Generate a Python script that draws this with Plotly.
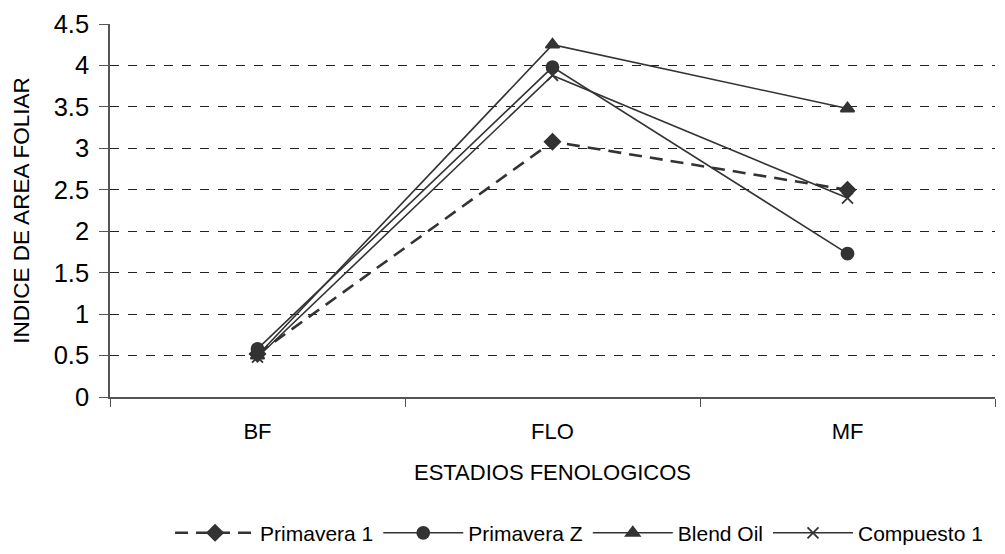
import plotly.graph_objects as go

# Phenological stages and leaf area index per variety
estadios = ["BF", "FLO", "MF"]
primavera_1 = [0.52, 3.08, 2.50]
primavera_z = [0.58, 3.98, 1.73]
blend_oil = [0.50, 4.25, 3.48]
compuesto_1 = [0.48, 3.88, 2.40]

y_ticks = [0, 0.5, 1, 1.5, 2, 2.5, 3, 3.5, 4, 4.5]
y_tick_text = ["0", "0.5", "1", "1.5", "2", "2.5", "3", "3.5", "4", "4.5"]

ink = "#333333"
series = [
    ("Primavera 1", primavera_1, "diamond", "13px,8px", 2.6, 12),
    ("Primavera Z", primavera_z, "circle", "solid", 1.6, 12),
    ("Blend Oil", blend_oil, "triangle-up", "solid", 1.6, 12),
    ("Compuesto 1", compuesto_1, "x-thin", "solid", 1.6, 11),
]

fig = go.Figure()
for name, vals, sym, dash, width, size in series:
    fig.add_trace(go.Scatter(
        x=estadios, y=vals, name=name, mode="lines+markers",
        line=dict(color=ink, width=width, dash=dash),
        marker=dict(symbol=sym, size=size, color=ink,
                    line=dict(color=ink, width=1.8)),
    ))

font = "Liberation Sans, Arial, sans-serif"
fig.update_layout(
    width=1005, height=554,
    margin=dict(l=110, r=10, t=24, b=157, autoexpand=False),
    paper_bgcolor="white", plot_bgcolor="white",
    font=dict(family=font, color="black", size=22),
    showlegend=True,
    legend=dict(orientation="h", x=0.53, xanchor="center", y=-0.365,
                yanchor="middle", font=dict(size=21), itemwidth=80,
                tracegroupgap=0),
    xaxis=dict(
        type="category", range=[-0.5, 2.5], tickson="boundaries",
        ticks="outside", ticklen=8, tickcolor="#555", showline=True,
        linecolor="#555", linewidth=1.5, showgrid=False, automargin=False,
        tickfont=dict(size=22), ticklabelstandoff=14,
        title=dict(text="ESTADIOS FENOLOGICOS", font=dict(size=22), standoff=21),
    ),
    yaxis=dict(
        range=[0, 4.5], tickmode="array", tickvals=y_ticks, ticktext=y_tick_text,
        ticks="outside", ticklen=9, tickcolor="#555", showline=True,
        linecolor="#555", linewidth=1.5, zeroline=False, automargin=False,
        showgrid=True, gridcolor="#222", griddash="dash", gridwidth=1,
        tickfont=dict(size=25.5), ticklabelstandoff=5,
        title=dict(text="INDICE DE AREA FOLIAR", font=dict(size=22.5), standoff=18),
    ),
)

fig.write_html("out.html")
